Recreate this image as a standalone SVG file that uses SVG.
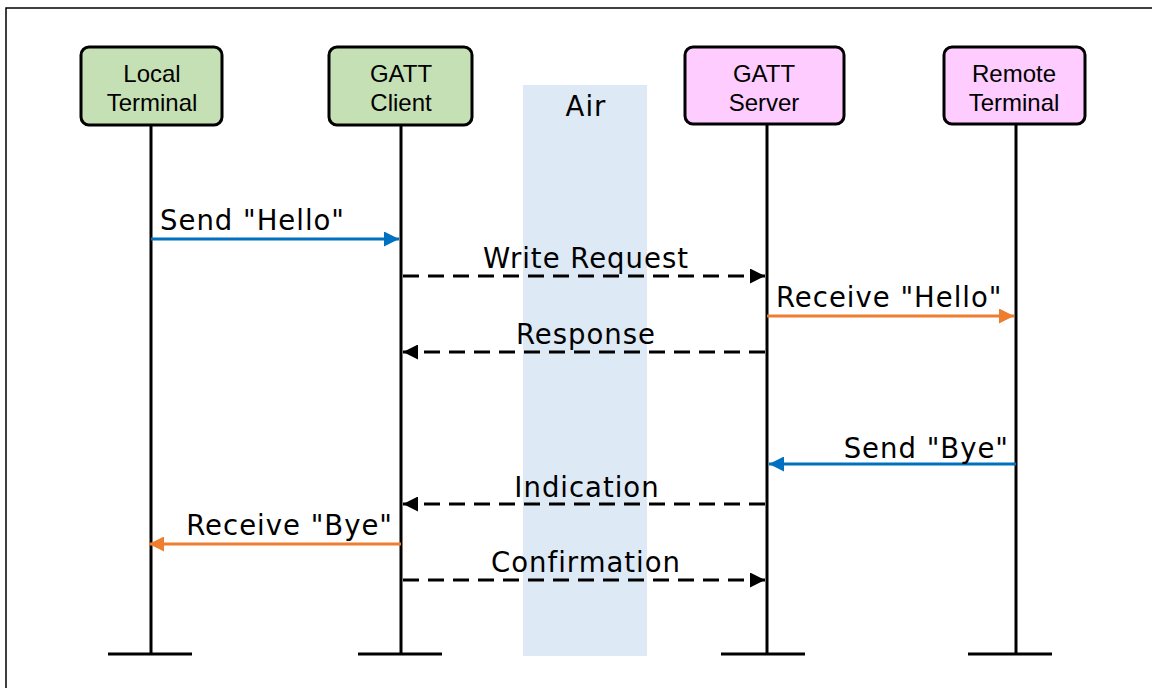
<svg xmlns="http://www.w3.org/2000/svg" width="1152" height="688" viewBox="0 0 1152 688">
  <defs>
    <style>
      .frame { fill: #ffffff; stroke: #000000; stroke-width: 1.5; }
      .box { stroke: #000000; stroke-width: 3; }
      .green { fill: #c5e0b4; }
      .pink { fill: #ffccff; }
      .nodetext { font-family: "Liberation Sans", Arial, sans-serif; font-size: 24px; fill: #000000; text-anchor: middle; }
      .life { stroke: #000000; stroke-width: 3; fill: none; }
      .label { font-family: "DejaVu Sans", Verdana, sans-serif; font-size: 27.5px; letter-spacing: 1px; fill: #000000; }
      .blue { stroke: #0070c0; stroke-width: 3; fill: none; }
      .orange { stroke: #ed7d31; stroke-width: 3; fill: none; }
      .dash { stroke: #000000; stroke-width: 3; fill: none; stroke-dasharray: 16 9; }
    </style>
    <marker id="ahBlue" viewBox="0 0 10 10" refX="10" refY="5" markerWidth="5" markerHeight="5" orient="auto" markerUnits="strokeWidth">
      <path d="M0,0 L10,5 L0,10 Z" fill="#0070c0"/>
    </marker>
    <marker id="ahOrange" viewBox="0 0 10 10" refX="10" refY="5" markerWidth="5" markerHeight="5" orient="auto" markerUnits="strokeWidth">
      <path d="M0,0 L10,5 L0,10 Z" fill="#ed7d31"/>
    </marker>
    <marker id="ahBlack" viewBox="0 0 10 10" refX="10" refY="5" markerWidth="5" markerHeight="5" orient="auto" markerUnits="strokeWidth">
      <path d="M0,0 L10,5 L0,10 Z" fill="#000000"/>
    </marker>
  </defs>

  <rect class="frame" x="6" y="8" width="1160" height="700"/>

  <!-- air band -->
  <g id="air">
    <rect x="523" y="85" width="124" height="571" fill="#dde9f4"/>
    <text x="586" y="116" class="label" text-anchor="middle">Air</text>
  </g>

  <!-- lifelines -->
  <g id="lifelines">
    <path class="life" d="M151,125 V654 M108,654 H192"/>
    <path class="life" d="M401,125 V654 M358,654 H442"/>
    <path class="life" d="M767,125 V654 M721,654 H805"/>
    <path class="life" d="M1016,125 V654 M968,654 H1052"/>
  </g>

  <g id="local-terminal">
    <rect class="box green" x="81" y="47" width="141" height="78" rx="8"/>
    <text class="nodetext" x="152" y="82">Local</text>
    <text class="nodetext" x="152" y="111">Terminal</text>
  </g>
  <g id="gatt-client">
    <rect class="box green" x="329" y="47" width="143" height="78" rx="8"/>
    <text class="nodetext" x="401" y="82">GATT</text>
    <text class="nodetext" x="401" y="111">Client</text>
  </g>
  <g id="gatt-server">
    <rect class="box pink" x="685" y="47" width="159" height="77" rx="8"/>
    <text class="nodetext" x="764" y="82">GATT</text>
    <text class="nodetext" x="764" y="111">Server</text>
  </g>
  <g id="remote-terminal">
    <rect class="box pink" x="944" y="47" width="141" height="77" rx="8"/>
    <text class="nodetext" x="1014" y="82">Remote</text>
    <text class="nodetext" x="1014" y="111">Terminal</text>
  </g>

  <!-- messages -->
  <g id="connectors">
    <line class="blue" x1="151" y1="239" x2="399" y2="239" marker-end="url(#ahBlue)"/>
    <line class="dash" x1="403" y1="276" x2="765" y2="276" marker-end="url(#ahBlack)"/>
    <line class="orange" x1="767" y1="316" x2="1014" y2="316" marker-end="url(#ahOrange)"/>
    <line class="dash" x1="765" y1="352" x2="403" y2="352" marker-end="url(#ahBlack)"/>
    <line class="blue" x1="1016" y1="464" x2="769" y2="464" marker-end="url(#ahBlue)"/>
    <line class="dash" x1="765" y1="504" x2="403" y2="504" marker-end="url(#ahBlack)"/>
    <line class="orange" x1="401" y1="544" x2="149" y2="544" marker-end="url(#ahOrange)"/>
    <line class="dash" x1="403" y1="580" x2="765" y2="580" marker-end="url(#ahBlack)"/>
  </g>

  <g id="message-labels">
    <text class="label" x="160" y="230">Send "Hello"</text>
    <text class="label" x="586" y="268" text-anchor="middle">Write Request</text>
    <text class="label" x="776" y="307">Receive "Hello"</text>
    <text class="label" x="586" y="344" text-anchor="middle">Response</text>
    <text class="label" x="1009" y="458" text-anchor="end">Send "Bye"</text>
    <text class="label" x="587" y="497" text-anchor="middle">Indication</text>
    <text class="label" x="393" y="535" text-anchor="end">Receive "Bye"</text>
    <text class="label" x="586" y="572" text-anchor="middle">Confirmation</text>
  </g>
</svg>
